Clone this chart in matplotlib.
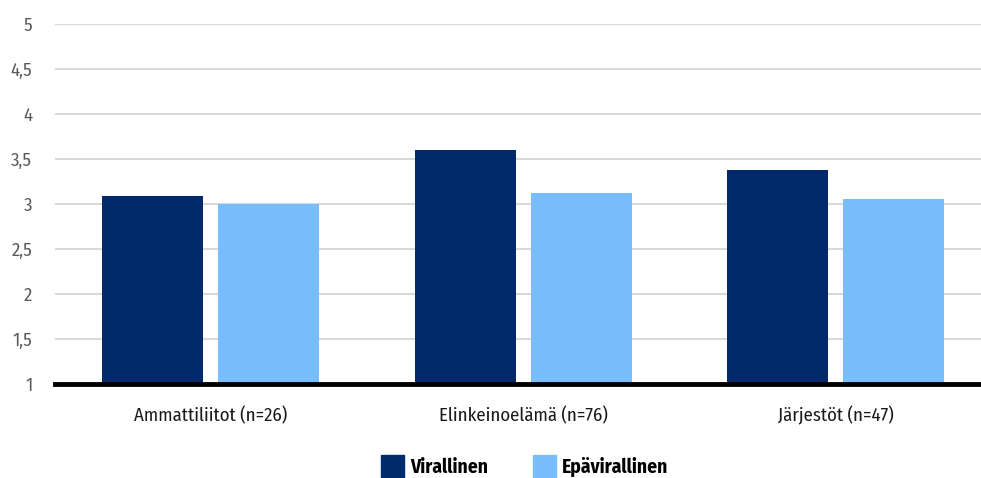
import matplotlib.pyplot as plt
import numpy as np
from matplotlib.patches import Patch

categories = ['Ammattiliitot (n=26)', 'Elinkeinoelämä (n=76)', 'Järjestöt (n=47)']
virallinen = [3.09, 3.60, 3.38]
epavirallinen = [3.00, 3.12, 3.06]
yticks = [1, 1.5, 2, 2.5, 3, 3.5, 4, 4.5, 5]
ytick_labels = ['1', '1,5', '2', '2,5', '3', '3,5', '4', '4,5', '5']

dark = '#002a6b'
light = '#78bdfd'

plt.rcParams['font.family'] = ['Fira Sans Condensed', 'DejaVu Sans']

fig = plt.figure(figsize=(9.81, 4.78), dpi=100)
W, H = 981, 478
left, right, top, bottom = 54.5, 981, 24, 384
ax = fig.add_axes([left / W, 1 - bottom / H, (right - left) / W, (bottom - top) / H])

x = np.arange(len(categories))
bw = 0.323
gap = 0.048
ax.bar(x - (bw + gap) / 2, virallinen, bw, bottom=0, color=dark, zorder=3)
ax.bar(x + (bw + gap) / 2, epavirallinen, bw, bottom=0, color=light, zorder=3)

ax.set_ylim(1, 5)
ax.set_xlim(-0.5, -0.5 + (right - left) / 312.5)
ax.set_yticks(yticks)
ax.set_yticklabels(ytick_labels, fontsize=13.5, color='#595959')
ax.tick_params(axis='y', length=0, pad=16)
ax.set_xticks(x)
ax.set_xticklabels(categories, fontsize=13.5, color='#1a1a1a')
ax.tick_params(axis='x', length=0, pad=16)

ax.grid(axis='y', color='#d9d9d9', linewidth=1.5, zorder=0)
for s in ['top', 'right', 'left']:
    ax.spines[s].set_visible(False)
ax.spines['bottom'].set_color('black')
ax.spines['bottom'].set_linewidth(3.5)
ax.spines['bottom'].set_zorder(4)

handles = [Patch(color=dark, label='Virallinen'), Patch(color=light, label='Epävirallinen')]
fig.legend(handles=handles, loc='center', bbox_to_anchor=(0.535, 1 - 467 / H), ncol=2,
           frameon=False, handlelength=1.2, handleheight=1.6, handletextpad=0.3,
           columnspacing=2.3, prop={'size': 14, 'weight': 'bold'})

fig.savefig('out.png', dpi=100)
